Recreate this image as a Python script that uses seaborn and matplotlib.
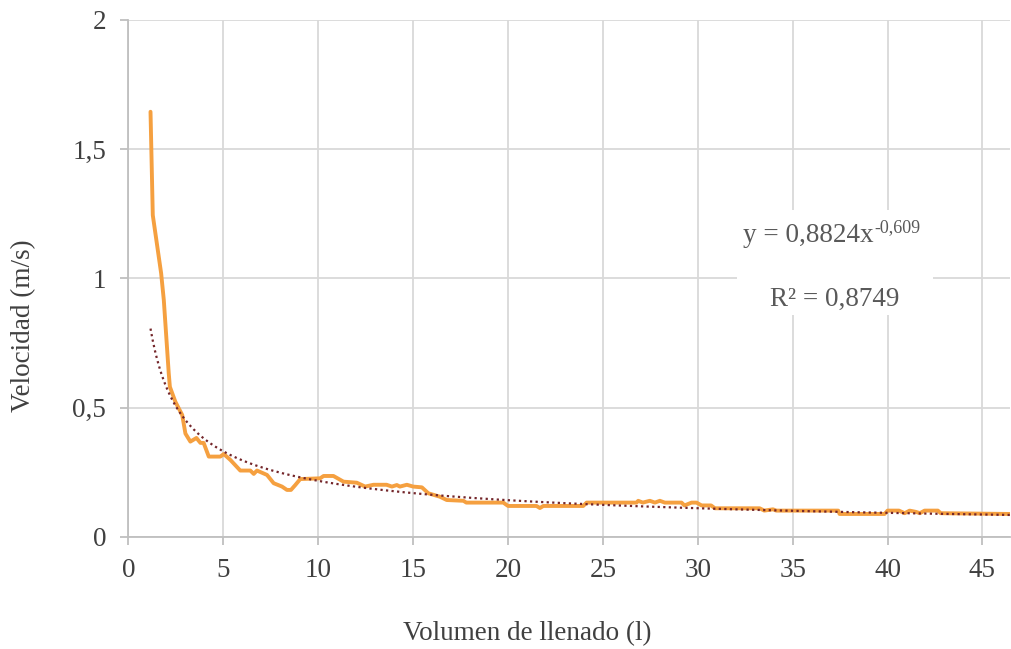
import matplotlib
matplotlib.use("Agg")
import matplotlib.pyplot as plt
import seaborn as sns
import numpy as np
import pandas as pd
from matplotlib.patches import Rectangle
from matplotlib.ticker import FuncFormatter

# ---- data ----
volumen = [1.16, 1.28, 1.72, 1.86, 2.12, 2.18, 2.47, 2.83, 3.00, 3.26, 3.58, 3.79, 3.96,
           4.23, 4.84, 5.02, 5.37, 5.89, 6.42, 6.60, 6.77, 7.30, 7.65, 8.09, 8.35, 8.56,
           8.79, 9.05, 10.10, 10.28, 10.80, 11.33, 12.03, 12.47, 12.91, 13.60, 13.88,
           14.14, 14.30, 14.67, 15.00, 15.46, 15.80, 16.40, 16.77, 17.65, 17.80, 19.75,
           20.00, 21.50, 21.68, 21.86, 23.96, 24.14, 26.77, 26.86, 27.10, 27.47, 27.74,
           28.00, 28.26, 29.14, 29.30, 29.67, 29.93, 30.20, 30.70, 30.90, 33.26, 33.50,
           33.96, 34.14, 37.40, 37.47, 39.84, 40.00, 40.60, 40.90, 41.16, 41.50, 41.70,
           41.95, 42.65, 42.80, 46.50]
velocidad = [1.645, 1.245, 1.02, 0.917, 0.634, 0.581, 0.523, 0.472, 0.400, 0.369, 0.383,
             0.364, 0.364, 0.311, 0.311, 0.321, 0.298, 0.257, 0.257, 0.244, 0.257, 0.240,
             0.208, 0.195, 0.182, 0.182, 0.201, 0.224, 0.227, 0.236, 0.236, 0.214, 0.210,
             0.195, 0.202, 0.202, 0.195, 0.201, 0.195, 0.202, 0.195, 0.192, 0.169, 0.156,
             0.143, 0.140, 0.133, 0.133, 0.120, 0.120, 0.112, 0.120, 0.120, 0.133, 0.133,
             0.140, 0.133, 0.140, 0.133, 0.140, 0.133, 0.133, 0.122, 0.133, 0.133, 0.122,
             0.122, 0.111, 0.111, 0.102, 0.107, 0.102, 0.102, 0.089, 0.089, 0.102, 0.102,
             0.092, 0.102, 0.097, 0.092, 0.102, 0.102, 0.092, 0.089]

# power trend line stated on the chart: y = a * x^b
trend_a = 0.8824
trend_b = -0.609
eq_base = "y = 0,8824x"
eq_exp = "-0,609"
r2_label = "R² = 0,8749"

x_ticks = [0, 5, 10, 15, 20, 25, 30, 35, 40, 45]
y_ticks = [0, 0.5, 1, 1.5, 2]

# ---- style ----
sns.set_theme(style="white")
plt.rcParams['font.family'] = ['Liberation Serif', 'DejaVu Serif']

text_col = "#404040"
eq_col = "#595959"
grid_col = "#D9D9D9"
fs = 19.5

fig = plt.figure(figsize=(10.11, 6.49), dpi=100)
ax = fig.add_axes([0.1271, 0.1726, 0.8719, 0.7966])

df = pd.DataFrame({"Volumen": volumen, "Velocidad": velocidad})
xt = np.linspace(min(volumen), max(volumen), 400)
df_trend = pd.DataFrame({"Volumen": xt, "Velocidad": trend_a * xt ** trend_b})

sns.lineplot(data=df, x="Volumen", y="Velocidad", ax=ax, color="#F5A040",
             linewidth=2.8, sort=False, estimator=None, zorder=3)
sns.lineplot(data=df_trend, x="Volumen", y="Velocidad", ax=ax, color="#74262A",
             linewidth=1.6, linestyle=(0, (1, 1.5)), estimator=None, zorder=4)

ax.set_xlim(0, 46.45)
ax.set_ylim(0, 2)
ax.set_xticks(x_ticks)
ax.set_yticks(y_ticks)
fmt = FuncFormatter(lambda v, p: (f"{v:g}").replace(".", ","))
ax.yaxis.set_major_formatter(fmt)
ax.xaxis.set_major_formatter(fmt)

ax.grid(True, color=grid_col, linewidth=1.3)
ax.set_axisbelow(True)
for s in ["top", "right"]:
    ax.spines[s].set_visible(False)
for s in ["left", "bottom"]:
    ax.spines[s].set_color("#BFBFBF")
    ax.spines[s].set_linewidth(1.3)
ax.tick_params(axis="both", which="major", direction="out", length=6, width=1.3,
               color="#BFBFBF", labelsize=fs, labelcolor=text_col,
               left=True, bottom=True)
ax.tick_params(axis="y", pad=10)
ax.tick_params(axis="x", pad=9)

ax.set_xlabel("Volumen de llenado (l)", fontsize=fs, color=text_col)
ax.set_ylabel("Velocidad (m/s)", fontsize=fs, color=text_col)
ax.xaxis.set_label_coords(0.452, -0.162)
ax.yaxis.set_label_coords(-0.105, 0.408)

# equation label with white background
ax.add_patch(Rectangle((0.690, 0.429), 0.223, 0.203, transform=ax.transAxes,
                       facecolor="white", edgecolor="none", zorder=5))
t1 = ax.text(0.697, 0.571, eq_base, transform=ax.transAxes,
             ha="left", va="baseline", fontsize=fs, color=eq_col, zorder=6)
ax.annotate(eq_exp, xy=(1, 1), xycoords=t1, xytext=(0.5, 3), textcoords="offset points",
            ha="left", va="top", fontsize=13, color=eq_col, zorder=6)
ax.text(0.7277, 0.447, r2_label, transform=ax.transAxes,
        ha="left", va="baseline", fontsize=fs, color=eq_col, zorder=6)

fig.savefig("out.png", dpi=100)
